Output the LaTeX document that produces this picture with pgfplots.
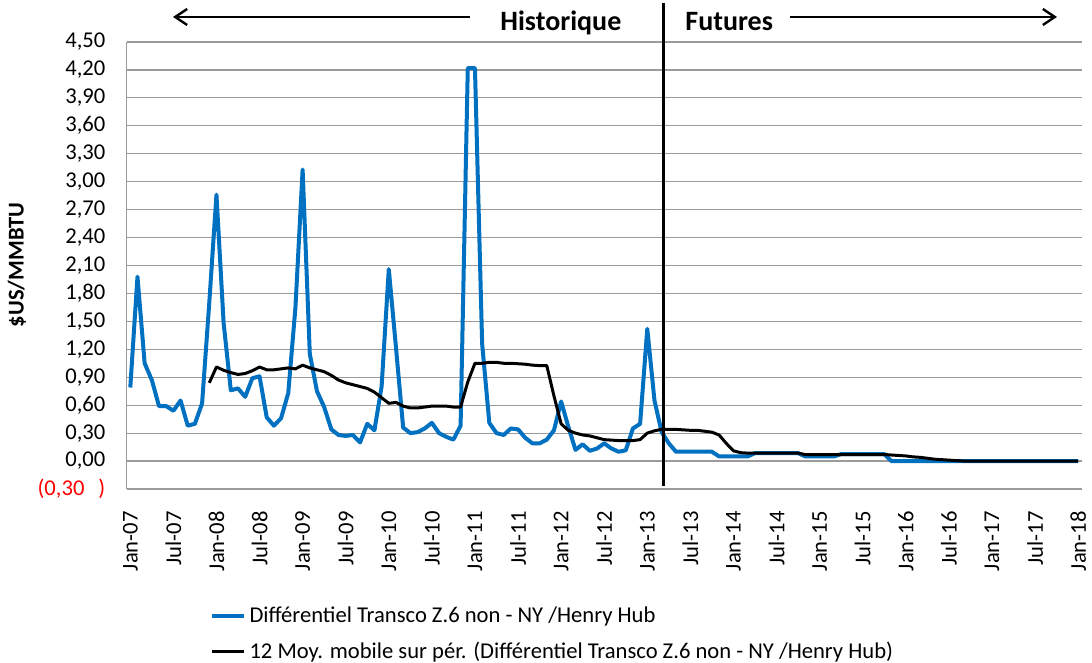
\documentclass[border=0pt]{standalone}
\usepackage{fontspec}
\setmainfont{Carlito}
\usepackage{pgfplots}
\usepackage{pgfplotstable}
\pgfplotsset{compat=1.18}
\usetikzlibrary{arrows.meta}
\definecolor{xlblue}{RGB}{0,112,192}
\definecolor{gridgray}{RGB}{155,155,155}
\newcommand{\tsp}{\hspace{6.5pt}}

\pgfplotstableread{
x y
0 0.79
1 1.98
2 1.05
3 0.87
4 0.59
5 0.59
6 0.54
7 0.65
8 0.38
9 0.40
10 0.62
11 1.70
12 2.86
13 1.48
14 0.76
15 0.78
16 0.69
17 0.89
18 0.91
19 0.47
20 0.38
21 0.46
22 0.73
23 1.65
24 3.13
25 1.15
26 0.75
27 0.58
28 0.34
29 0.28
30 0.27
31 0.28
32 0.20
33 0.40
34 0.33
35 0.80
36 2.06
37 1.22
38 0.36
39 0.30
40 0.31
41 0.35
42 0.41
43 0.30
44 0.26
45 0.23
46 0.38
47 4.22
48 4.22
49 1.26
50 0.41
51 0.30
52 0.28
53 0.35
54 0.34
55 0.25
56 0.19
57 0.19
58 0.23
59 0.33
60 0.64
61 0.37
62 0.12
63 0.18
64 0.11
65 0.135
66 0.19
67 0.135
68 0.10
69 0.115
70 0.35
71 0.40
72 1.42
73 0.65
74 0.31
75 0.19
76 0.10
77 0.10
78 0.10
79 0.10
80 0.10
81 0.10
82 0.05
83 0.05
84 0.05
85 0.05
86 0.05
87 0.085
88 0.085
89 0.085
90 0.085
91 0.085
92 0.085
93 0.085
94 0.05
95 0.05
96 0.05
97 0.05
98 0.05
99 0.075
100 0.075
101 0.075
102 0.075
103 0.075
104 0.075
105 0.075
106 0
107 0
108 0
109 0
110 0
111 0
112 0
113 0
114 0
115 0
116 0
117 0
118 0
119 0
120 0
121 0
122 0
123 0
124 0
125 0
126 0
127 0
128 0
129 0
130 0
131 0
132 0
}\bluedata

\pgfplotstableread{
x y
11 0.84
12 1.01
13 0.975
14 0.95
15 0.93
16 0.94
17 0.97
18 1.01
19 0.98
20 0.98
21 0.99
22 1.00
23 0.99
24 1.03
25 1.00
26 0.98
27 0.96
28 0.92
29 0.87
30 0.84
31 0.82
32 0.80
33 0.78
34 0.74
35 0.68
36 0.62
37 0.63
38 0.59
39 0.57
40 0.57
41 0.58
42 0.59
43 0.59
44 0.59
45 0.58
46 0.58
47 0.85
48 1.05
49 1.05
50 1.06
51 1.06
52 1.05
53 1.05
54 1.045
55 1.04
56 1.03
57 1.025
58 1.025
59 0.70
60 0.40
61 0.33
62 0.30
63 0.28
64 0.27
65 0.25
66 0.23
67 0.225
68 0.22
69 0.22
70 0.22
71 0.23
72 0.30
73 0.325
74 0.34
75 0.34
76 0.34
77 0.335
78 0.33
79 0.33
80 0.32
81 0.31
82 0.28
83 0.19
84 0.11
85 0.09
86 0.085
87 0.085
88 0.085
89 0.085
90 0.085
91 0.085
92 0.085
93 0.085
94 0.07
95 0.07
96 0.07
97 0.07
98 0.07
99 0.07
100 0.07
101 0.07
102 0.07
103 0.07
104 0.07
105 0.07
106 0.065
107 0.06
108 0.055
109 0.045
110 0.04
111 0.03
112 0.02
113 0.015
114 0.01
115 0.005
116 0
117 0
118 0
119 0
120 0
121 0
122 0
123 0
124 0
125 0
126 0
127 0
128 0
129 0
130 0
131 0
132 0
}\avgdata

\begin{document}
\begin{tikzpicture}[x=1pt,y=1pt]
\useasboundingbox (0,0) rectangle (546,331.5);
\begin{axis}[
  at={(63.35pt,87pt)}, anchor=south west,
  scale only axis, width=477.5pt, height=223.5pt,
  xmin=-0.5, xmax=132.5, ymin=-0.3, ymax=4.5,
  axis x line*=bottom, axis y line*=left,
  axis line style={gridgray, line width=0.6pt, -},
  major tick length=0pt,
  ymajorgrids, grid style={gridgray, line width=0.6pt},
  ytick={-0.3,0,0.3,0.6,0.9,1.2,1.5,1.8,2.1,2.4,2.7,3.0,3.3,3.6,3.9,4.2,4.5},
  yticklabels={{\color{red}(0,30\hspace{7pt})},{0,00\tsp},{0,30\tsp},{0,60\tsp},{0,90\tsp},{1,20\tsp},{1,50\tsp},{1,80\tsp},{2,10\tsp},{2,40\tsp},{2,70\tsp},{3,00\tsp},{3,30\tsp},{3,60\tsp},{3,90\tsp},{4,20\tsp},{4,50\tsp}},
  yticklabel style={anchor=east, inner sep=0pt, xshift=-10.5pt, font=\fontsize{11.3}{13}\selectfont},
  xtick={0,6,...,132},
  xticklabels={Jan-07,Jul-07,Jan-08,Jul-08,Jan-09,Jul-09,Jan-10,Jul-10,Jan-11,Jul-11,Jan-12,Jul-12,Jan-13,Jul-13,Jan-14,Jul-14,Jan-15,Jul-15,Jan-16,Jul-16,Jan-17,Jul-17,Jan-18},
  xticklabel style={rotate=90, anchor=east, inner sep=0pt, xshift=-11pt, font=\fontsize{11.3}{13}\selectfont},
  legend style={at={(0.080,-0.245)}, anchor=north west, draw=none, fill=none,
    font=\fontsize{11.3}{13}\selectfont, row sep=4pt, cells={anchor=west}},
  legend image code/.code={\draw[#1] (0pt,0pt) -- (16pt,0pt);},
]
\addplot[xlblue, line width=2pt, line join=round] table[x=x,y=y] {\bluedata};
\addlegendentry{Différentiel Transco Z.6 non - NY /Henry Hub}
\addplot[black, line width=1.5pt, line join=round] table[x=x,y=y] {\avgdata};
\addlegendentry{12 Moy. mobile sur pér. (Différentiel Transco Z.6 non - NY /Henry Hub)}
\end{axis}
% separator and annotations
\draw[black, line width=1.5pt] (331.65,329.85) -- (331.65,88.5);
\draw[black, line width=1.2pt, -{Straight Barb[length=6pt,width=8pt]}] (235,323) -- (86.5,323);
\draw[black, line width=1.2pt, -{Straight Barb[length=6pt,width=8pt]}] (395,323) -- (528.5,323);
\node[anchor=base west, inner sep=0pt, font=\fontsize{14}{16}\selectfont\bfseries] at (250,316.2) {Historique};
\node[anchor=base west, inner sep=0pt, font=\fontsize{14}{16}\selectfont\bfseries] at (342.5,316.2) {Futures};
\node[rotate=90, inner sep=0pt, font=\fontsize{11.3}{13}\selectfont\bfseries] at (8.5,199) {\$US/MMBTU};
\end{tikzpicture}
\end{document}
